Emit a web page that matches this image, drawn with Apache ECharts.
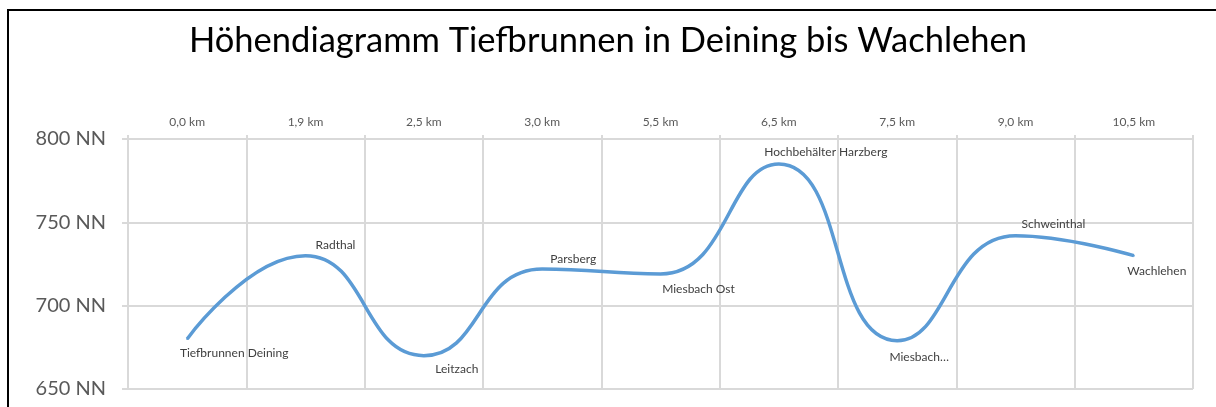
<!DOCTYPE html>
<html>
<head>
<meta charset="utf-8">
<title>Höhendiagramm</title>
<script src="https://cdn.jsdelivr.net/npm/echarts@6/dist/echarts.min.js"></script>
<style>
  html, body { margin: 0; padding: 0; background: #fff; overflow: hidden; }
  #chart { width: 1216px; height: 407px; }
</style>
</head>
<body>
<div id="chart"></div>
<script>
// Strecke in km (obere Achse)
const distances = ['0,0 km', '1,9 km', '2,5 km', '3,0 km', '5,5 km', '6,5 km', '7,5 km', '9,0 km', '10,5 km'];
// Ortsnamen als Datenbeschriftung
const places = ['Tiefbrunnen Deining', 'Radthal', 'Leitzach', 'Parsberg', 'Miesbach Ost',
  'Hochbehälter Harzberg', 'Miesbach…', 'Schweinthal', 'Wachlehen'];
// Höhe in NN
const heights = [680, 730, 670, 722, 719, 785, 679, 742, 730];

// Verschiebung der Beschriftungen wie im Original (Excel)
const labelShift = [[47, 14], [30, -11], [33, 13], [31, -10], [38, 15], [47, -12], [22, 16], [38, -12], [23, 15]];

const chart = echarts.init(document.getElementById('chart'));

chart.setOption({
  animation: false,
  textStyle: { fontFamily: 'Lato, "Open Sans", sans-serif' },
  title: {
    text: 'Höhendiagramm Tiefbrunnen in Deining bis Wachlehen',
    left: 'center',
    top: 18,
    textStyle: { fontSize: 34.5, fontWeight: 'normal', color: '#000', fontFamily: 'Lato' }
  },
  // Rahmen des Diagrammbereichs (nur links und oben sichtbar)
  graphic: [
    { type: 'line', shape: { x1: 8, y1: 9, x2: 8, y2: 407 }, style: { stroke: '#000', lineWidth: 2 }, silent: true },
    { type: 'line', shape: { x1: 7, y1: 10, x2: 1216, y2: 10 }, style: { stroke: '#000', lineWidth: 2 }, silent: true }
  ],
  grid: { left: 128, right: 23, top: 139, bottom: 18 },
  xAxis: {
    type: 'category',
    position: 'top',
    data: distances,
    boundaryGap: true,
    axisLine: { lineStyle: { color: '#d9d9d9', width: 2 } },
    axisTick: { show: true, length: 4, lineStyle: { color: '#d9d9d9', width: 2 } },
    axisLabel: { color: '#595959', fontSize: 12, margin: 11 },
    splitLine: { show: true, lineStyle: { color: '#d9d9d9', width: 2 } }
  },
  yAxis: {
    type: 'value',
    min: 650,
    max: 800,
    interval: 50,
    axisLine: { show: true, lineStyle: { color: '#d9d9d9', width: 2 } },
    axisTick: { show: true, length: 6, lineStyle: { color: '#d9d9d9', width: 2 } },
    axisLabel: { color: '#595959', fontSize: 20, margin: 22, formatter: '{value} NN' },
    splitLine: { show: true, lineStyle: { color: '#d9d9d9', width: 2 } }
  },
  series: [{
    type: 'line',
    smooth: 0.5,
    symbol: 'circle',
    symbolSize: 2,
    itemStyle: { color: '#5b9bd5' },
    lineStyle: { color: '#5b9bd5', width: 3.5 },
    data: heights.map((h, i) => ({
      value: h,
      name: places[i],
      label: { offset: labelShift[i] }
    })),
    label: {
      show: true,
      position: 'inside',
      formatter: '{b}',
      color: '#404040',
      fontSize: 12
    }
  }]
});
</script>
</body>
</html>
